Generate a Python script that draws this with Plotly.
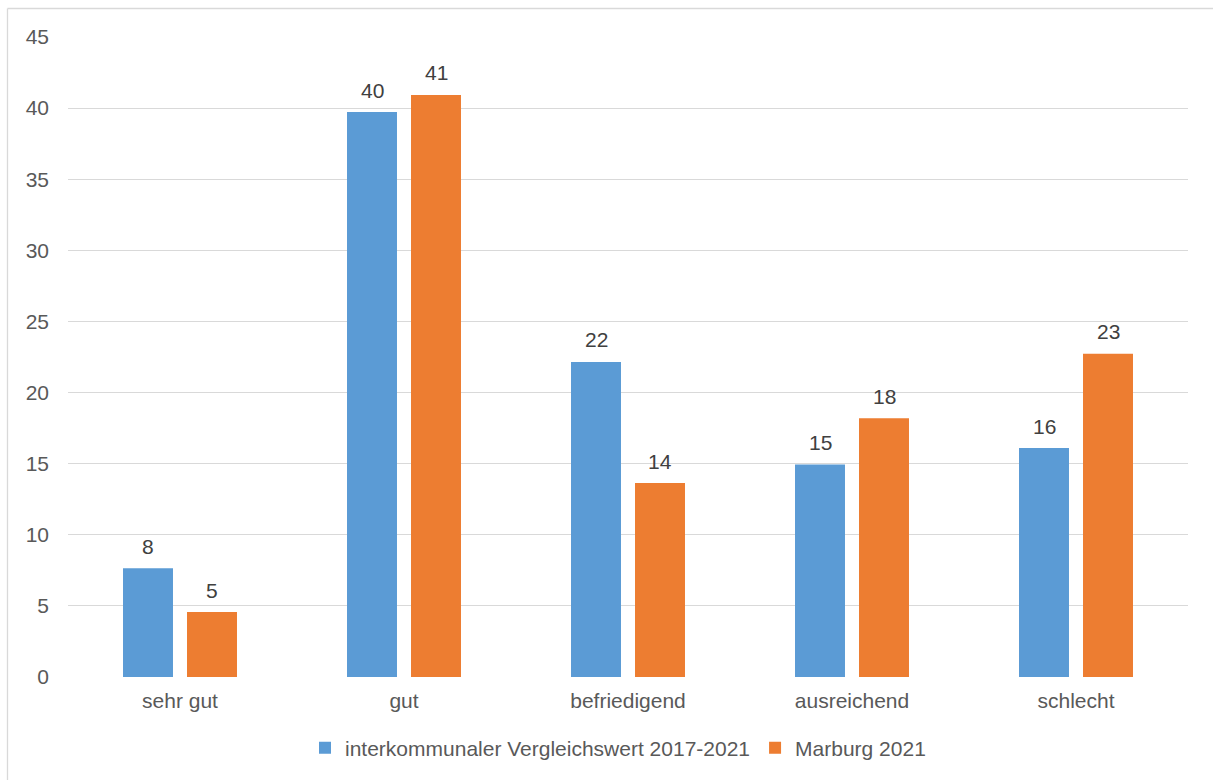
import plotly.graph_objects as go

categories = ["sehr gut", "gut", "befriedigend", "ausreichend", "schlecht"]
vergleich = [7.65, 39.72, 22.15, 14.95, 16.1]
marburg = [4.57, 40.93, 13.64, 18.2, 22.72]
series_names = ["interkommunaler Vergleichswert 2017-2021", "Marburg 2021"]
colors = ["#5B9BD5", "#ED7D31"]
y_ticks = [0, 5, 10, 15, 20, 25, 30, 35, 40, 45]

W, H = 1213, 780
FONT = "Liberation Sans, Arial, sans-serif"
TXT = "#595959"
FS = 21

fig = go.Figure()
for name, vals, c in zip(series_names, [vergleich, marburg], colors):
    fig.add_trace(go.Bar(
        x=categories, y=vals, name=name,
        marker=dict(color=c, line=dict(width=0)),
        hovertemplate="%{x}: %{y}<extra>" + name + "</extra>",
    ))

# data labels above each bar (anchored to the bar value on the y axis)
for series_idx, vals in enumerate([vergleich, marburg]):
    shift = -32 if series_idx == 0 else 32
    for cat, v in zip(categories, vals):
        fig.add_annotation(x=cat, y=v, xref="x", yref="y", text=f"{v:.0f}",
                           showarrow=False, xshift=shift, yshift=22,
                           xanchor="center", yanchor="middle",
                           font=dict(family=FONT, size=FS, color="#404040"))

ml, mr, mt, mb = 68, 25, 37, 103
pw = W - ml - mr
ph = H - mt - mb
fig.update_layout(
    width=W, height=H,
    margin=dict(l=ml, r=mr, t=mt, b=mb, pad=0, autoexpand=False),
    paper_bgcolor="white", plot_bgcolor="white",
    barmode="group", bargap=0.4286, bargroupgap=0.219,
    font=dict(family=FONT, size=FS, color=TXT),
    showlegend=True,
    legend=dict(orientation="h", x=(618 - ml) / pw, xanchor="center", y=-(748 - (H - mb)) / ph,
                yanchor="middle",
                font=dict(family=FONT, size=FS, color=TXT), bgcolor="rgba(0,0,0,0)",
                itemwidth=30, traceorder="normal"),
    xaxis=dict(showgrid=False, showline=False, ticks="", zeroline=False,
               tickfont=dict(family=FONT, size=FS, color=TXT), ticklabelstandoff=9),
    yaxis=dict(range=[0, 45], tickvals=y_ticks, showgrid=True, gridcolor="#D9D9D9",
               gridwidth=1.3, zeroline=False, showline=False, ticks="",
               tickfont=dict(family=FONT, size=FS, color=TXT), ticklabelstandoff=18),
)
# outer chart border (only left and top edges are visible in the window)
xl = (7.5 - ml) / pw
xr = (W + 20 - ml) / pw
yt = 1 + (mt - 8.5) / ph
yb = -(mb + 20) / ph
border = dict(color="#D9D9D9", width=1.3)
fig.add_shape(type="line", xref="paper", yref="paper", x0=xl, x1=xr, y0=yt, y1=yt,
              line=border, layer="below")
fig.add_shape(type="line", xref="paper", yref="paper", x0=xl, x1=xl, y0=yb, y1=yt,
              line=border, layer="below")

fig.write_html(
    "out.html",
    config={"displayModeBar": False},
    post_script="document.body.style.margin='0';document.body.style.overflow='hidden';",
)
